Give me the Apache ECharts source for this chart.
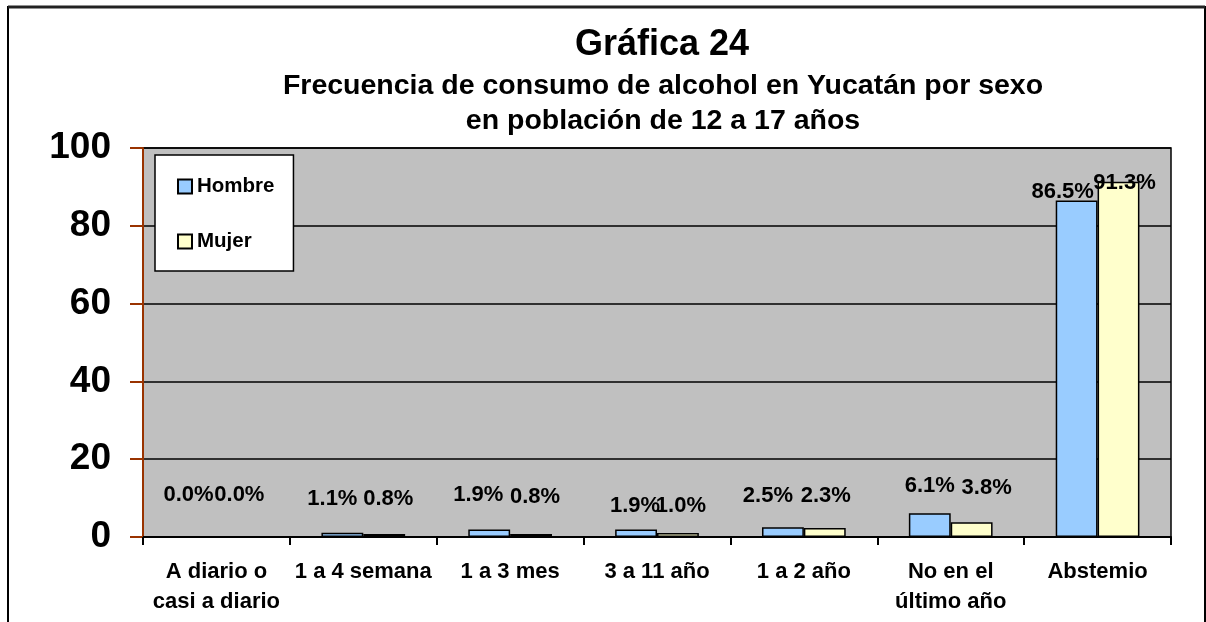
<!DOCTYPE html>
<html>
<head>
<meta charset="utf-8">
<script src="https://cdn.jsdelivr.net/npm/echarts@6/dist/echarts.min.js"></script>
<style>
html,body{margin:0;padding:0;background:#fff;}
#chart{width:1206px;height:622px;}
</style>
</head>
<body>
<div id="chart"></div>
<script>
const categories = ['A diario o\ncasi a diario', '1 a 4 semana', '1 a 3 mes', '3 a 11 año', '1 a 2 año', 'No en el\núltimo año', 'Abstemio'];
const hombre = [0.0, 1.1, 1.9, 1.9, 2.5, 6.1, 86.5];
const mujer = [0.0, 0.8, 0.8, 1.0, 2.3, 3.8, 91.3];
const yTicks = [0, 20, 40, 60, 80, 100];

// label nudges (style only): [dx, dy] per category
const hombreLabelNudge = [[-7,-25],[-10,-18],[-11,-19],[-1,-8],[-15,-15],[0,-11],[-14,7]];
const mujerLabelNudge = [[2,-25],[4,-19],[4,-21],[3,-11],[1,-16],[15,-18],[6,17]];

const FONT = 'Liberation Sans, Arial, sans-serif';

function buildData(values, nudges) {
  return values.map((v, i) => ({ value: v, label: { offset: nudges[i] } }));
}

const labelStyle = {
  show: true,
  position: 'top',
  distance: 5,
  formatter: p => p.value.toFixed(1) + '%',
  fontFamily: FONT,
  fontWeight: 'bold',
  fontSize: 22,
  color: '#000'
};

const chart = echarts.init(document.getElementById('chart'));
chart.setOption({
  animation: false,
  backgroundColor: '#fff',
  graphic: [{
    type: 'rect',
    shape: { x: 8, y: 7, width: 1197, height: 640 },
    style: { fill: 'none', stroke: '#000', lineWidth: 2 },
    z: -10
  }, {
    type: 'line',
    shape: { x1: 8, y1: 7, x2: 1205, y2: 7 },
    style: { stroke: '#222', lineWidth: 3 },
    z: -9
  }],
  title: [{
    text: 'Gráfica 24',
    left: 657, top: 22, textAlign: 'center',
    textStyle: { fontFamily: FONT, fontWeight: 'bold', fontSize: 36, color: '#000' }
  }, {
    text: 'Frecuencia de consumo de alcohol en Yucatán por sexo\nen población de 12 a 17 años',
    left: 658, top: 64, textAlign: 'center',
    textStyle: { fontFamily: FONT, fontWeight: 'bold', fontSize: 28.5, lineHeight: 35, color: '#000' }
  }],
  legend: {
    orient: 'vertical',
    left: 155, top: 155,
    backgroundColor: '#fff',
    borderColor: '#000',
    borderWidth: 1.5,
    padding: [21, 19, 19, 22],
    itemGap: 34,
    itemWidth: 14, itemHeight: 14,
    icon: 'rect',
    textStyle: { fontFamily: FONT, fontWeight: 'bold', fontSize: 20.5, color: '#000' },
    data: ['Hombre', 'Mujer']
  },
  grid: {
    left: 143, top: 148, right: 35, bottom: 85,
    show: true, backgroundColor: '#C0C0C0', borderColor: '#000', borderWidth: 1.5
  },
  xAxis: {
    type: 'category',
    data: categories,
    axisLine: { lineStyle: { color: '#000', width: 2 } },
    axisTick: { show: true, length: 8, lineStyle: { color: '#000', width: 2 } },
    axisLabel: {
      interval: 0, margin: 20, lineHeight: 30,
      fontFamily: FONT, fontWeight: 'bold', fontSize: 22, color: '#000'
    }
  },
  yAxis: {
    type: 'value',
    min: yTicks[0], max: yTicks[yTicks.length - 1], interval: yTicks[1] - yTicks[0],
    axisLine: { show: true, lineStyle: { color: '#993300', width: 2 } },
    axisTick: { show: true, length: 13, lineStyle: { color: '#993300', width: 2 } },
    splitLine: { show: true, lineStyle: { color: '#000', width: 1.5 } },
    axisLabel: {
      margin: 32,
      fontFamily: FONT, fontWeight: 'bold', fontSize: 37, color: '#000'
    }
  },
  series: [{
    name: 'Hombre',
    type: 'bar',
    data: buildData(hombre, hombreLabelNudge),
    barGap: '0%',
    barCategoryGap: '43%',
    itemStyle: { color: '#99CCFF', borderColor: '#000', borderWidth: 1.5 },
    label: labelStyle
  }, {
    name: 'Mujer',
    type: 'bar',
    data: buildData(mujer, mujerLabelNudge),
    barGap: '0%',
    barCategoryGap: '43%',
    itemStyle: { color: '#FFFFCC', borderColor: '#000', borderWidth: 1.5 },
    label: labelStyle
  }]
});
</script>
</body>
</html>
